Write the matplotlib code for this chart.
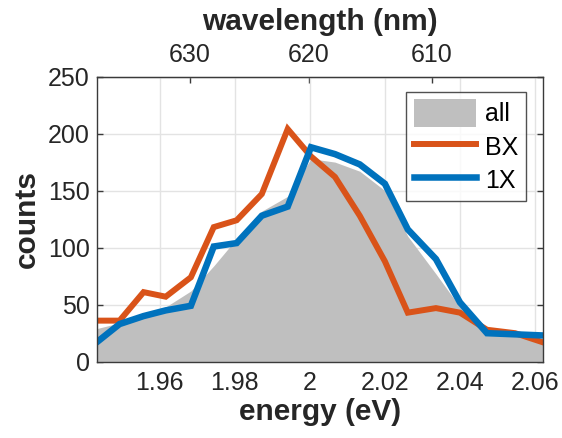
import matplotlib
matplotlib.use("Agg")
import matplotlib.pyplot as plt
from matplotlib.patches import Patch
from matplotlib.lines import Line2D

plt.rcParams['font.family'] = ['Liberation Sans', 'DejaVu Sans']

# photon energy of each bin (eV)
energy = [1.9432, 1.9493, 1.9557, 1.9616, 1.9683, 1.9744, 1.9805, 1.9872,
          1.9941, 2.0003, 2.0067, 2.0133, 2.0200, 2.0261, 2.0336, 2.0400,
          2.0472, 2.0547, 2.0621]

# counts per bin
counts_all = [29, 34, 40, 48, 62, 84, 108, 132, 145, 178, 175, 167, 150,
              110, 77, 48, 30, 24, 17]
counts_bx = [36, 36, 61, 57, 74, 118, 124, 147, 204, 180, 162, 128, 88,
             43, 47, 43, 28, 25, 17]
counts_1x = [17, 33, 40, 45, 49, 101, 104, 128, 136, 188, 182, 173, 156,
             116, 90, 52, 25, 24, 23]

energy_ticks = [1.96, 1.98, 2.00, 2.02, 2.04, 2.06]
energy_ticklabels = ['1.96', '1.98', '2', '2.02', '2.04', '2.06']
wavelength_ticks = [610, 620, 630]
count_ticks = [0, 50, 100, 150, 200, 250]

HC = 1239.84  # eV*nm

c_all = '#bfbfbf'
c_bx = '#d95319'
c_1x = '#0072bd'
c_axis = '#3a3a3a'
c_text = '#262626'

fig = plt.figure(figsize=(5.62, 4.38), dpi=100)
ax = fig.add_axes([0.172, 0.1742, 0.794, 0.651])

ax.fill_between(energy, 0, counts_all, color=c_all, lw=0, zorder=1)
ax.plot(energy, counts_bx, color=c_bx, lw=4.3, solid_joinstyle='miter', zorder=2)
ax.plot(energy, counts_1x, color=c_1x, lw=4.7, solid_joinstyle='miter', zorder=3)

ax.set_xlim(energy[0], energy[-1])
ax.set_ylim(0, 250)
ax.set_xticks(energy_ticks)
ax.set_xticklabels(energy_ticklabels)
ax.set_yticks(count_ticks)

ax.grid(True, color='#e3e3e3', lw=1.0, zorder=0)
ax.set_axisbelow(True)

for s in ax.spines.values():
    s.set_color(c_axis)
    s.set_linewidth(1.0)
    s.set_zorder(5)

ax.tick_params(axis='both', direction='in', length=4, width=1, color=c_axis,
               labelsize=18, labelcolor=c_text, pad=5)
ax.tick_params(axis='x', top=False, bottom=True, pad=7)
ax.tick_params(axis='y', left=True, right=True)

ax.set_xlabel('energy (eV)', fontsize=21.5, fontweight='bold', color=c_text, labelpad=2)
ax.set_ylabel('counts', fontsize=21.5, fontweight='bold', color=c_text, labelpad=5)

top = ax.secondary_xaxis('top', functions=(lambda e: HC / e, lambda l: HC / l))
top.set_xticks(wavelength_ticks)
top.tick_params(direction='in', length=4, width=1, color=c_axis, labelsize=18,
                labelcolor=c_text, pad=7)
top.spines['top'].set_color(c_axis)
top.set_xlabel('wavelength (nm)', fontsize=21.5, fontweight='bold', color=c_text,
               labelpad=9)

handles = [Patch(facecolor=c_all, edgecolor='none', label='all'),
           Line2D([], [], color=c_bx, lw=4.3, label='BX'),
           Line2D([], [], color=c_1x, lw=4.7, label='1X')]
leg = ax.legend(handles=handles, loc='upper right', bbox_to_anchor=(0.962, 0.946),
                fontsize=18, frameon=True, fancybox=False, handlelength=2.5,
                handleheight=1.3, handletextpad=0.35, borderpad=0.3,
                labelspacing=0.25, borderaxespad=0)
leg.get_frame().set_edgecolor(c_text)
leg.get_frame().set_linewidth(1.0)
leg.set_zorder(6)

fig.savefig('out.png', dpi=100)
